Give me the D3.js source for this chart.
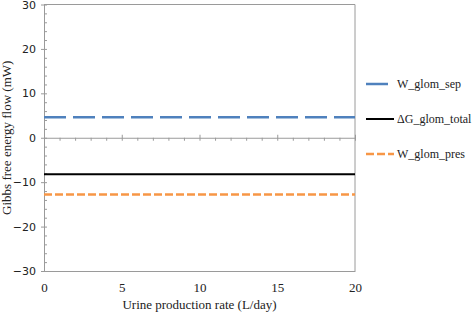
<!DOCTYPE html>
<html lang="en">
<head>
    <meta charset="UTF-8">
    <title>Gibbs free energy flow</title>
    <script src="https://d3js.org/d3.v7.min.js"></script>
    <style>
        body { margin: 0; background: #fff; }
        svg text { fill: #222; }
    </style>
</head>
<body>
    <div id="chart"></div>
    <script>
        // Data
        const urineRate = [0, 5, 10, 15, 20];
        const wGlomSep = [4.6, 4.6, 4.6, 4.6, 4.6];
        const dGGlomTotal = [-8.2, -8.2, -8.2, -8.2, -8.2];
        const wGlomPres = [-12.8, -12.8, -12.8, -12.8, -12.8];
        const seriesNames = ["W_glom_sep", "\u0394G_glom_total", "W_glom_pres"];
        const xTicks = [0, 5, 10, 15, 20];
        const yTicks = [-30, -20, -10, 0, 10, 20, 30];

        const width = 472, height = 313;
        const plot = { left: 44, right: 355, top: 4.5, bottom: 271 };
        const axisColor = "#9a9a9a";

        const svg = d3.select("#chart").append("svg")
            .attr("width", width)
            .attr("height", height);

        const x = d3.scaleLinear().domain([0, 20]).range([plot.left, plot.right]);
        const y = d3.scaleLinear().domain([-30, 30]).range([plot.bottom, plot.top]);

        // plot border (top + right)
        svg.append("path")
            .attr("d", `M${plot.left},${plot.top}H${plot.right}V${plot.bottom}`)
            .attr("fill", "none")
            .attr("stroke", axisColor);

        // bottom axis with labels
        const xBottom = svg.append("g")
            .attr("transform", `translate(0,${plot.bottom})`)
            .call(d3.axisBottom(x).tickValues(xTicks).tickSize(0).tickPadding(12));
        xBottom.select(".domain").attr("stroke", axisColor);
        xBottom.selectAll("text")
            .attr("font-family", "Liberation Serif, serif")
            .attr("font-size", 13)
            .attr("fill", "#222");

        // y axis: major ticks outside, minor ticks inside
        const yAxis = svg.append("g")
            .attr("transform", `translate(${plot.left},0)`)
            .call(d3.axisLeft(y).tickValues(yTicks).tickSize(3).tickPadding(5).tickSizeOuter(0));
        yAxis.select(".domain").attr("stroke", axisColor);
        yAxis.selectAll("line").attr("stroke", axisColor);
        yAxis.selectAll("text")
            .attr("font-family", "DejaVu Sans, sans-serif")
            .attr("font-size", 11)
            .attr("fill", "#333");

        const yMinor = svg.append("g")
            .attr("transform", `translate(${plot.left},0)`)
            .call(d3.axisRight(y).ticks(30).tickSize(3).tickFormat("").tickSizeOuter(0));
        yMinor.select(".domain").remove();
        yMinor.selectAll("line").attr("stroke", axisColor);

        // zero line with x ticks
        const zeroAxis = svg.append("g")
            .attr("transform", `translate(0,${y(0)})`)
            .call(d3.axisBottom(x).ticks(20).tickSize(3).tickFormat("").tickSizeOuter(0));
        zeroAxis.select(".domain").attr("stroke", axisColor);
        zeroAxis.selectAll("line").attr("stroke", axisColor);
        zeroAxis.selectAll(".tick")
            .filter(d => d % 5 === 0 && d > 0)
            .select("line")
            .attr("y1", -3)
            .attr("y2", 3);

        // series
        const series = [
            { name: seriesNames[0], values: wGlomSep, color: "#4f81bd", dash: "22,7", width: 2.5 },
            { name: seriesNames[1], values: dGGlomTotal, color: "#000", dash: null, width: 2 },
            { name: seriesNames[2], values: wGlomPres, color: "#f79646", dash: "8,3", width: 2.5 }
        ];

        const line = d3.line()
            .x((d, i) => x(urineRate[i]))
            .y(d => y(d));

        svg.selectAll(".series")
            .data(series)
            .join("path")
            .attr("class", "series")
            .attr("d", d => line(d.values))
            .attr("fill", "none")
            .attr("stroke", d => d.color)
            .attr("stroke-width", d => d.width)
            .attr("stroke-dasharray", d => d.dash);

        // legend
        const legend = svg.append("g");
        const rows = legend.selectAll("g")
            .data(series)
            .join("g")
            .attr("transform", (d, i) => `translate(366,${84 + i * 35})`);
        rows.append("line")
            .attr("x1", 0).attr("x2", 28)
            .attr("stroke", d => d.color)
            .attr("stroke-width", d => d.width)
            .attr("stroke-dasharray", d => d.dash);
        rows.append("text")
            .attr("x", 31)
            .attr("dy", "0.35em")
            .attr("font-family", "Liberation Serif, serif")
            .attr("font-size", 12)
            .attr("fill", "#222")
            .text(d => d.name);

        // axis titles
        svg.append("text")
            .attr("x", (plot.left + plot.right) / 2)
            .attr("y", 309)
            .attr("text-anchor", "middle")
            .attr("font-family", "Liberation Serif, serif")
            .attr("font-size", 13)
            .text("Urine production rate (L/day)");

        svg.append("text")
            .attr("transform", `translate(11,${y(0)}) rotate(-90)`)
            .attr("text-anchor", "middle")
            .attr("font-family", "Liberation Serif, serif")
            .attr("font-size", 13)
            .text("Gibbs free energy flow (mW)");
    </script>
</body>
</html>
